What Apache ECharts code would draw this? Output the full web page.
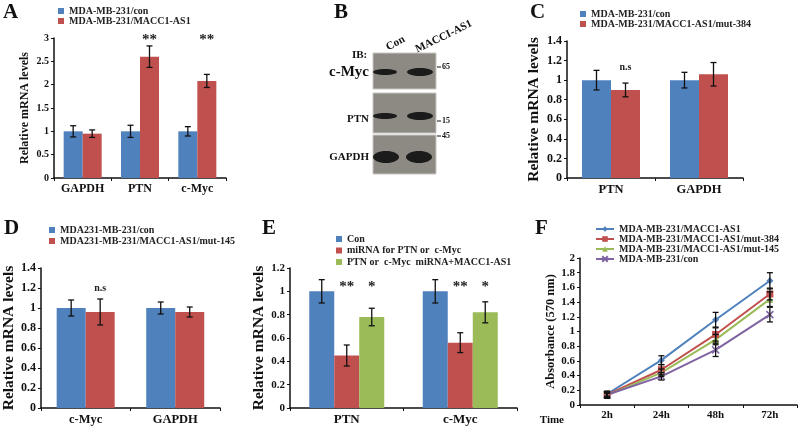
<!DOCTYPE html>
<html>
<head>
<meta charset="utf-8">
<script src="https://cdn.jsdelivr.net/npm/echarts@6/dist/echarts.min.js"></script>
<style>
  html, body { margin: 0; padding: 0; background: #fff; }
  #chart { width: 798px; height: 428px; }
</style>
</head>
<body>
<div id="chart"></div>
<script>
// ---- data ----
const catsA = ['GAPDH', 'PTN', 'c-Myc'];
const conA = [1, 1, 1];
const conAErr = [0.12, 0.13, 0.1];
const maccA = [0.95, 2.6, 2.08];
const maccAErr = [0.08, 0.23, 0.14];
const sigA = ['', '**', '**'];

const catsC = ['PTN', 'GAPDH'];
const conC = [1, 1];
const conCErr = [0.1, 0.08];
const mut384C = [0.9, 1.06];
const mut384CErr = [0.07, 0.12];
const sigC = ['n.s', ''];

const catsD = ['c-Myc', 'GAPDH'];
const conD = [1, 1];
const conDErr = [0.08, 0.06];
const mut145D = [0.96, 0.96];
const mut145DErr = [0.13, 0.05];
const sigD = ['n.s', ''];

const catsE = ['PTN', 'c-Myc'];
const conE = [1, 1];
const conEErr = [0.1, 0.1];
const mirE = [0.45, 0.56];
const mirEErr = [0.09, 0.085];
const rescueE = [0.78, 0.82];
const rescueEErr = [0.075, 0.09];
const sigMirE = ['**', '**'];
const sigRescueE = ['*', '*'];

const timesF = ['2h', '24h', '48h', '72h'];
const namesF = ['MDA-MB-231/MACC1-AS1', 'MDA-MB-231/MACC1-AS1/mut-384', 'MDA-MB-231/MACC1-AS1/mut-145', 'MDA-MB-231/con'];
const maccF = [0.15, 0.61, 1.16, 1.69];
const maccFErr = [0.03, 0.06, 0.1, 0.11];
const mut384F = [0.14, 0.48, 0.96, 1.51];
const mut384FErr = [0.03, 0.07, 0.09, 0.08];
const mut145F = [0.13, 0.44, 0.89, 1.44];
const mut145FErr = [0.03, 0.05, 0.07, 0.1];
const conF = [0.14, 0.39, 0.75, 1.23];
const conFErr = [0.05, 0.05, 0.09, 0.1];

// ---- style ----
const SERIF = 'Liberation Serif';
const BLUE = '#4F81BD', RED = '#C0504D', GREEN = '#9BBB59', PURPLE = '#8064A2';

const chart = echarts.init(document.getElementById('chart'));

function errData(vals, errs) {
  return vals.map((v, i) => [i, v - errs[i], v + errs[i]]);
}

// error bars for grouped bars; idx = position in group, n = bars in group
function errSeries(grid, vals, errs, idx, n, barW) {
  return {
    type: 'custom', xAxisIndex: grid, yAxisIndex: grid, z: 5, silent: true,
    data: errData(vals, errs),
    renderItem: function (params, api) {
      const lo = api.coord([api.value(0), api.value(1)]);
      const hi = api.coord([api.value(0), api.value(2)]);
      const x = lo[0] + (idx - (n - 1) / 2) * barW;
      const st = { stroke: '#111', lineWidth: 1.3 };
      return {
        type: 'group', children: [
          { type: 'line', shape: { x1: x, y1: lo[1], x2: x, y2: hi[1] }, style: st },
          { type: 'line', shape: { x1: x - 3, y1: lo[1], x2: x + 3, y2: lo[1] }, style: st },
          { type: 'line', shape: { x1: x - 3, y1: hi[1], x2: x + 3, y2: hi[1] }, style: st }
        ]
      };
    }
  };
}

function sigSeries(grid, labels, yVal, idx, n, barW, size) {
  return {
    type: 'custom', xAxisIndex: grid, yAxisIndex: grid, z: 5, silent: true,
    data: labels.map((l, i) => [i, yVal]),
    renderItem: function (params, api) {
      const p = api.coord([api.value(0), api.value(1)]);
      const x = p[0] + (idx - (n - 1) / 2) * barW;
      return {
        type: 'text',
        style: {
          x: x, y: p[1], text: labels[params.dataIndex],
          align: 'center', verticalAlign: 'middle',
          font: 'bold ' + size + 'px "' + SERIF + '"', fill: '#222'
        }
      };
    }
  };
}

function barSeries(grid, name, vals, color, barW) {
  return {
    type: 'bar', name: name, xAxisIndex: grid, yAxisIndex: grid,
    data: vals, barWidth: barW, barGap: '0%', itemStyle: { color: color },
    silent: true
  };
}

function catAxis(grid, cats, size) {
  return {
    type: 'category', gridIndex: grid, data: cats,
    axisLine: { lineStyle: { color: '#111', width: 1.5 } },
    axisTick: { show: true, length: 3, lineStyle: { color: '#111' } },
    axisLabel: { interval: 0, fontFamily: SERIF, fontWeight: 'bold', fontSize: size, color: '#111', margin: 5 }
  };
}

function valAxis(grid, max, interval, name, gap, nameSize, fs) {
  return {
    type: 'value', gridIndex: grid, min: 0, max: max, interval: interval,
    name: name, nameLocation: 'middle', nameGap: gap,
    nameTextStyle: { fontFamily: SERIF, fontWeight: 'bold', fontSize: nameSize, color: '#111' },
    splitLine: { show: false },
    axisLine: { show: true, lineStyle: { color: '#111', width: 1.5 } },
    axisTick: { show: true, length: 3, lineStyle: { color: '#111' } },
    axisLabel: { fontFamily: SERIF, fontWeight: 'bold', fontSize: fs, color: '#111', margin: 5,
      formatter: v => String(Math.round(v * 10) / 10) }
  };
}

function barLegend(left, top, gap, names) {
  return {
    left: left, top: top, orient: 'vertical', icon: 'rect', padding: 0,
    itemWidth: 6, itemHeight: 6, itemGap: gap, selectedMode: false,
    textStyle: { fontFamily: SERIF, fontWeight: 'bold', fontSize: 10, color: '#222' },
    data: names
  };
}

const bwA = 19, bwC = 29, bwD = 29, bwE = 25;

const xSymbol = 'path://M0,0L10,10M10,0L0,10';

function lineF(i, vals, color, symbol) {
  return {
    type: 'line', name: 'F:' + namesF[i], xAxisIndex: 4, yAxisIndex: 4,
    data: vals, symbol: symbol, symbolSize: 7, silent: true,
    lineStyle: { color: color, width: 2 },
    itemStyle: symbol === xSymbol ? { color: color, borderColor: color, borderWidth: 1.5 } : { color: color }
  };
}

function letter(t, x, y) {
  return { type: 'text', left: x, top: y,
    style: { text: t, font: 'bold 21px "' + SERIF + '"', fill: '#111' } };
}

function lbl(t, x, y, size, align) {
  return { type: 'text', x: x, y: y,
    style: { text: t, font: 'bold ' + size + 'px "' + SERIF + '"', fill: '#111',
      align: align || 'left', verticalAlign: 'middle' } };
}

function blot(y, h, bands) {
  const children = [{ type: 'rect', shape: { x: 373, y: y, width: 63, height: h },
    style: { fill: '#8d8a84', stroke: '#c8c6c2', lineWidth: 1 } }];
  bands.forEach(b => children.push({ type: 'ellipse',
    shape: { cx: b[0], cy: b[1], rx: b[2], ry: b[3] }, style: { fill: '#1b1b1b' } }));
  return { type: 'group', children: children };
}

const option = {
  animation: false,
  backgroundColor: '#fff',
  grid: [
    { left: 54, top: 38, width: 172, height: 140 },
    { left: 567, top: 41, width: 176, height: 137 },
    { left: 38, top: 268, width: 182, height: 140 },
    { left: 290, top: 268, width: 227, height: 140 },
    { left: 580, top: 258, width: 217, height: 147 }
  ],
  xAxis: [
    catAxis(0, catsA, 12),
    catAxis(1, catsC, 12.5),
    catAxis(2, catsD, 12.5),
    catAxis(3, catsE, 13),
    Object.assign(catAxis(4, timesF, 11), {
      name: 'Time', nameLocation: 'start', nameGap: 16,
      nameTextStyle: { fontFamily: SERIF, fontWeight: 'bold', fontSize: 11, color: '#111',
        verticalAlign: 'top', padding: [10, 0, 0, 0] }
    })
  ],
  yAxis: [
    valAxis(0, 3, 0.5, 'Relative mRNA levels', 23, 12, 10),
    valAxis(1, 1.4, 0.2, 'Relative mRNA levels', 25, 15.5, 12),
    valAxis(2, 1.4, 0.2, 'Relative mRNA levels', 21, 15.5, 12),
    valAxis(3, 1.2, 0.2, 'Relative mRNA levels', 18, 15.5, 11),
    valAxis(4, 2, 0.2, 'Absorbance (570 nm)', 19, 12.5, 11)
  ],
  legend: [
    barLegend(58, 6, 0, ['MDA-MB-231/con', 'MDA-MB-231/MACC1-AS1']),
    barLegend(580, 9, 0, ['MDA-MB-231/con', 'MDA-MB-231/MACC1-AS1/mut-384']),
    barLegend(49, 225, 1, ['MDA231-MB-231/con', 'MDA231-MB-231/MACC1-AS1/mut-145']),
    barLegend(336, 234, 1.5, ['Con', 'miRNA for PTN or  c-Myc', 'PTN or  c-Myc  miRNA+MACC1-AS1']),
    {
      left: 595, top: 224, orient: 'vertical', itemWidth: 18, itemHeight: 7, itemGap: 0,
      padding: 0, selectedMode: false,
      textStyle: { fontFamily: SERIF, fontWeight: 'bold', fontSize: 10, color: '#222' },
      formatter: n => n.slice(2),
      data: namesF.map(n => 'F:' + n)
    }
  ],
  graphic: [
    letter('A', 3, 2),
    letter('B', 334, 2),
    letter('C', 530, 2),
    letter('D', 4, 218),
    letter('E', 262, 218),
    letter('F', 535, 218),
    // panel B western blot
    blot(53, 36, [[385, 72, 12, 3], [420, 72, 13, 4]]),
    blot(93, 40, [[385, 116, 12, 3], [420, 116, 13, 4]]),
    blot(135, 39, [[386, 157, 13, 6], [419, 157, 13, 6]]),
    lbl('IB:', 352, 55, 11),
    lbl('c-Myc', 369, 72, 15, 'right'),
    lbl('PTN', 369, 119, 11, 'right'),
    lbl('GAPDH', 369, 157, 11, 'right'),
    { type: 'text', x: 387, y: 48, rotation: 0.5,
      style: { text: 'Con', font: 'bold 11px "' + SERIF + '"', fill: '#111', verticalAlign: 'middle' } },
    { type: 'text', x: 416, y: 50, rotation: 0.45,
      style: { text: 'MACCI-AS1', font: 'bold 11px "' + SERIF + '"', fill: '#111', verticalAlign: 'middle' } },
    { type: 'line', shape: { x1: 437, y1: 67, x2: 441, y2: 67 }, style: { stroke: '#111', lineWidth: 1 } },
    lbl('65', 442, 67, 8),
    { type: 'line', shape: { x1: 437, y1: 121, x2: 441, y2: 121 }, style: { stroke: '#111', lineWidth: 1 } },
    lbl('15', 442, 121, 8),
    { type: 'line', shape: { x1: 437, y1: 136, x2: 441, y2: 136 }, style: { stroke: '#111', lineWidth: 1 } },
    lbl('45', 442, 136, 8)
  ],
  series: [
    // A
    barSeries(0, 'MDA-MB-231/con', conA, BLUE, bwA),
    barSeries(0, 'MDA-MB-231/MACC1-AS1', maccA, RED, bwA),
    errSeries(0, conA, conAErr, 0, 2, bwA),
    errSeries(0, maccA, maccAErr, 1, 2, bwA),
    sigSeries(0, sigA, 2.95, 1, 2, bwA, 15),
    // C
    barSeries(1, 'MDA-MB-231/con', conC, BLUE, bwC),
    barSeries(1, 'MDA-MB-231/MACC1-AS1/mut-384', mut384C, RED, bwC),
    errSeries(1, conC, conCErr, 0, 2, bwC),
    errSeries(1, mut384C, mut384CErr, 1, 2, bwC),
    sigSeries(1, sigC, 1.13, 1, 2, bwC, 10),
    // D
    barSeries(2, 'MDA231-MB-231/con', conD, BLUE, bwD),
    barSeries(2, 'MDA231-MB-231/MACC1-AS1/mut-145', mut145D, RED, bwD),
    errSeries(2, conD, conDErr, 0, 2, bwD),
    errSeries(2, mut145D, mut145DErr, 1, 2, bwD),
    sigSeries(2, sigD, 1.2, 1, 2, bwD, 10),
    // E
    barSeries(3, 'Con', conE, BLUE, bwE),
    barSeries(3, 'miRNA for PTN or  c-Myc', mirE, RED, bwE),
    barSeries(3, 'PTN or  c-Myc  miRNA+MACC1-AS1', rescueE, GREEN, bwE),
    errSeries(3, conE, conEErr, 0, 3, bwE),
    errSeries(3, mirE, mirEErr, 1, 3, bwE),
    errSeries(3, rescueE, rescueEErr, 2, 3, bwE),
    sigSeries(3, sigMirE, 1.04, 1, 3, bwE, 15),
    sigSeries(3, sigRescueE, 1.04, 2, 3, bwE, 15),
    // F
    lineF(0, maccF, BLUE, 'diamond'),
    lineF(1, mut384F, RED, 'rect'),
    lineF(2, mut145F, GREEN, 'triangle'),
    lineF(3, conF, PURPLE, xSymbol),
    errSeries(4, maccF, maccFErr, 0, 1, 0),
    errSeries(4, mut384F, mut384FErr, 0, 1, 0),
    errSeries(4, mut145F, mut145FErr, 0, 1, 0),
    errSeries(4, conF, conFErr, 0, 1, 0)
  ]
};

chart.setOption(option);
</script>
</body>
</html>
